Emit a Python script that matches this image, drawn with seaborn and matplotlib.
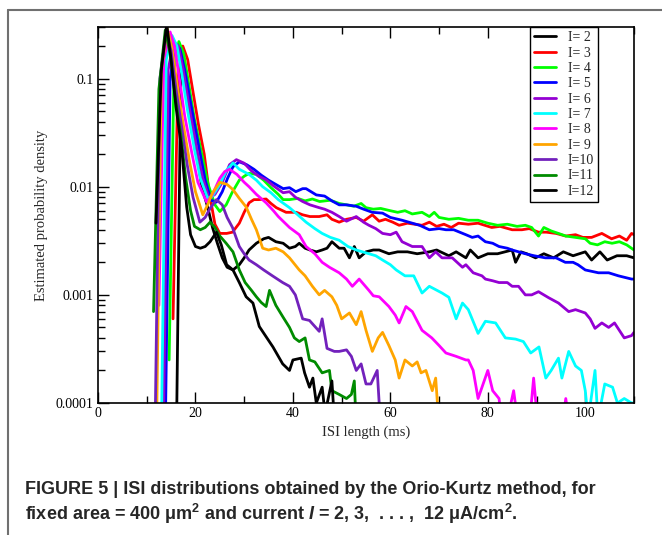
import matplotlib
matplotlib.use("Agg")
import matplotlib.pyplot as plt
from matplotlib.lines import Line2D
from matplotlib.ticker import LogLocator, NullFormatter, FixedLocator, MultipleLocator
import numpy as np
import pandas as pd
import seaborn as sns

# ISI histograms (t in ms, p = estimated density)
t_i2 = [16.1, 17.0, 18.0, 19.0, 20.2, 21.3, 22.5, 23.5, 24.5, 25.5, 26.5, 27.7, 29.0, 30.0, 31.0, 32.5, 34.0, 35.0,
        36.5, 38.0, 39.3, 40.5, 41.3, 42.5, 43.5, 44.8, 46.0, 47.0, 48.0, 49.5, 50.5, 51.6, 52.6, 53.6, 55.0, 56.5,
        57.7, 59.7, 61.5, 63.5, 65.5, 68.0, 69.5, 72.0, 73.5, 75.5, 76.4, 78.0, 80.0, 82.0, 85.0, 85.7, 86.8, 88.0,
        89.8, 91.5, 93.5, 95.5, 97.5, 100.0, 101.3, 103.0, 104.5, 106.5, 108.5, 110.0]
p_i2 = [5e-05, 0.12, 0.1, 0.05, 0.022, 0.01, 0.0065, 0.0042, 0.003, 0.0022, 0.0018, 0.0017, 0.0019, 0.0022, 0.0026,
        0.003, 0.0033, 0.0034, 0.0031, 0.003, 0.0027, 0.0028, 0.003, 0.0027, 0.0026, 0.0025, 0.0026, 0.0027, 0.0031,
        0.0027, 0.0027, 0.0022, 0.0028, 0.0022, 0.0025, 0.0026, 0.0026, 0.0024, 0.0025, 0.0025, 0.0024, 0.0025,
        0.0026, 0.0023, 0.0025, 0.0022, 0.0026, 0.0022, 0.0024, 0.0024, 0.0026, 0.002, 0.0025, 0.0024, 0.0022,
        0.0024, 0.0022, 0.0025, 0.0023, 0.0025, 0.0021, 0.0025, 0.0021, 0.0023, 0.0023, 0.0022]

t_i3 = [15.4, 16.4, 17.4, 18.4, 19.4, 20.6, 21.8, 22.8, 24.0, 25.0, 26.4, 27.6, 29.0, 30.0, 31.0, 32.0, 33.0, 34.5,
        35.5, 36.6, 38.6, 40.7, 42.0, 43.5, 45.4, 47.0, 48.0, 49.5, 51.0, 53.0, 54.5, 56.3, 57.7, 59.0, 60.5, 61.8,
        63.5, 65.0, 66.5, 68.0, 69.5, 71.0, 72.5, 74.0, 76.0, 78.0, 80.8, 82.5, 85.0, 87.0, 88.5, 90.4, 92.0, 94.0,
        96.0, 98.0, 99.5, 101.3, 103.4, 105.4, 107.0, 108.5, 109.5, 110.0]
p_i3 = [0.0006, 0.1, 0.2, 0.15, 0.08, 0.038, 0.02, 0.009, 0.0045, 0.0037, 0.0037, 0.0038, 0.0046, 0.0058, 0.0071,
        0.0076, 0.0076, 0.0077, 0.007, 0.0064, 0.0058, 0.0058, 0.0055, 0.0053, 0.0053, 0.0055, 0.005, 0.0047, 0.005,
        0.0052, 0.0048, 0.0055, 0.0048, 0.005, 0.0047, 0.0044, 0.0046, 0.0045, 0.0044, 0.0047, 0.0043, 0.0045,
        0.0042, 0.0046, 0.0045, 0.0046, 0.0042, 0.0043, 0.004, 0.004, 0.0041, 0.0038, 0.0038, 0.0037, 0.0035,
        0.0036, 0.0034, 0.0034, 0.0037, 0.0033, 0.0035, 0.0032, 0.0037, 0.0036]

t_i4 = [14.6, 15.6, 16.6, 17.6, 18.6, 19.8, 21.3, 22.6, 24.0, 25.0, 26.3, 27.5, 29.0, 30.0, 31.0, 32.5, 34.0, 35.5,
        37.0, 38.0, 39.3, 41.0, 42.5, 44.0, 45.5, 47.7, 49.5, 51.0, 52.5, 54.0, 55.0, 56.5, 58.0, 60.0, 61.5, 63.0,
        64.5, 66.5, 68.0, 69.0, 70.0, 72.0, 74.0, 76.0, 78.0, 80.0, 82.0, 84.0, 86.0, 87.7, 89.0, 90.4, 91.5, 93.0,
        94.5, 96.0, 98.0, 100.0, 101.0, 102.5, 104.0, 105.5, 107.0, 108.5, 110.0]
p_i4 = [0.00025, 0.12, 0.22, 0.17, 0.09, 0.042, 0.02, 0.0105, 0.0068, 0.0059, 0.0068, 0.0088, 0.0115, 0.0125,
        0.0133, 0.013, 0.0115, 0.0098, 0.0085, 0.0076, 0.0076, 0.0078, 0.0074, 0.0077, 0.0073, 0.0075, 0.007, 0.0068,
        0.0066, 0.007, 0.0064, 0.0062, 0.0063, 0.006, 0.0058, 0.006, 0.0056, 0.0058, 0.0053, 0.0058, 0.0052, 0.005,
        0.0051, 0.0049, 0.0049, 0.0046, 0.0044, 0.0045, 0.0043, 0.0044, 0.0042, 0.0035, 0.0042, 0.0039, 0.0037,
        0.0035, 0.0034, 0.0033, 0.003, 0.0029, 0.0031, 0.003, 0.0031, 0.0029, 0.0026]

t_i5 = [13.8, 14.8, 15.8, 16.8, 17.8, 19.0, 20.8, 22.0, 23.2, 24.3, 25.5, 26.6, 27.7, 29.0, 30.5, 32.0, 33.5, 35.0,
        36.5, 38.0, 39.3, 40.6, 42.0, 42.7, 44.8, 46.5, 48.0, 49.5, 51.0, 53.0, 54.5, 56.3, 58.4, 60.0, 62.4, 64.5,
        66.0, 68.0, 70.0, 71.4, 73.0, 75.5, 76.8, 78.0, 79.5, 81.0, 82.3, 84.0, 85.0, 87.7, 89.5, 91.8, 94.0, 95.9,
        97.5, 98.5, 100.0, 102.7, 104.8, 106.8, 109.5, 110.0]
p_i5 = [5e-05, 0.1, 0.2, 0.19, 0.12, 0.06, 0.022, 0.0115, 0.0075, 0.0072, 0.009, 0.012, 0.0153, 0.017, 0.016, 0.0145,
        0.0128, 0.0115, 0.0105, 0.0096, 0.0098, 0.009, 0.0096, 0.0096, 0.0084, 0.0082, 0.0074, 0.0068, 0.0068, 0.0066,
        0.0062, 0.0058, 0.0057, 0.0052, 0.0049, 0.0046, 0.0044, 0.004, 0.0041, 0.004, 0.004, 0.0036, 0.0034, 0.0035,
        0.0031, 0.003, 0.0028, 0.0027, 0.0026, 0.0024, 0.0023, 0.0022, 0.0022, 0.002, 0.002, 0.0019, 0.0017, 0.0016,
        0.0016, 0.0015, 0.0014, 0.0014]

t_i6 = [13.4, 14.4, 15.5, 16.5, 17.5, 18.7, 20.3, 21.5, 22.8, 24.0, 25.5, 27.0, 28.4, 30.0, 31.5, 33.0, 34.5, 36.0,
        38.0, 39.3, 40.5, 42.0, 43.5, 45.4, 46.5, 48.0, 49.5, 51.0, 53.0, 54.5, 55.6, 57.0, 58.4, 60.0, 61.2, 62.4,
        64.5, 66.5, 68.0, 69.3, 70.6, 72.7, 74.8, 75.5, 77.0, 78.8, 79.5, 81.0, 82.3, 84.0, 85.0, 86.3, 87.7, 89.0,
        90.4, 92.5, 94.5, 96.6, 98.0, 100.0, 101.0, 102.0, 103.4, 104.8, 106.0, 108.0, 109.5, 110.0]
p_i6 = [5e-05, 0.12, 0.22, 0.2, 0.12, 0.055, 0.022, 0.012, 0.0078, 0.0085, 0.011, 0.016, 0.0178, 0.0165, 0.014,
        0.0125, 0.0116, 0.0102, 0.0088, 0.009, 0.008, 0.0073, 0.0068, 0.0064, 0.0062, 0.0058, 0.0053, 0.0048, 0.0053,
        0.0047, 0.0044, 0.0041, 0.0037, 0.0036, 0.0038, 0.0031, 0.0028, 0.0028, 0.0022, 0.0025, 0.0022, 0.0022,
        0.0018, 0.0019, 0.0016, 0.0015, 0.0014, 0.00135, 0.0013, 0.0013, 0.0012, 0.0012, 0.001, 0.001, 0.00107,
        0.00094, 0.00084, 0.0007, 0.00073, 0.00068, 0.0006, 0.00049, 0.00055, 0.0005, 0.00055, 0.0004, 0.00042,
        0.00045]

t_i7 = [13.0, 14.0, 15.2, 16.2, 17.2, 18.4, 19.8, 21.0, 22.5, 23.5, 25.0, 26.3, 27.7, 29.0, 31.0, 32.5, 33.8, 35.5,
        37.0, 39.3, 41.0, 42.7, 44.5, 46.0, 47.7, 49.5, 51.3, 53.0, 55.6, 57.0, 58.4, 60.0, 61.2, 63.0, 64.8, 66.5,
        68.0, 70.6, 72.0, 73.5, 74.8, 76.0, 78.0, 79.5, 81.6, 83.6, 85.7, 87.3, 88.8, 90.5, 91.9, 93.0, 94.5, 95.2,
        96.6, 98.0, 99.2, 100.0, 100.6, 102.0, 102.6, 104.0, 105.6, 106.6, 108.0, 109.5, 110.0]
p_i7 = [5e-05, 0.15, 0.25, 0.2, 0.11, 0.05, 0.022, 0.012, 0.0078, 0.0082, 0.0105, 0.014, 0.0166, 0.0145, 0.013,
        0.0115, 0.01, 0.0088, 0.0076, 0.0064, 0.0055, 0.0047, 0.0041, 0.0037, 0.0034, 0.0032, 0.0028, 0.0026, 0.0024,
        0.0023, 0.0021, 0.0019, 0.0017, 0.0015, 0.0015, 0.00104, 0.0012, 0.00104, 0.00095, 0.0006, 0.00084, 0.00073,
        0.00044, 0.00057, 0.00055, 0.0004, 0.00039, 0.00037, 0.00029, 0.00033, 0.00017, 0.0002, 0.00026, 0.00017,
        0.0003, 0.00022, 0.0002, 0.00013, 7e-05, 0.0002, 7e-05, 0.00015, 0.00014, 0.0001, 0.00011, 0.0001, 0.0001]

t_i8 = [12.5, 13.5, 14.8, 15.7, 16.7, 17.8, 19.3, 20.5, 22.3, 23.5, 25.0, 26.0, 27.0, 28.5, 30.0, 31.0, 32.5, 34.5,
        36.0, 37.0, 39.3, 41.3, 42.7, 44.5, 46.0, 47.5, 49.5, 51.0, 52.2, 53.6, 55.6, 56.5, 57.7, 59.7, 61.0, 61.8,
        63.2, 64.5, 66.5, 68.5, 70.0, 71.4, 73.5, 75.5, 76.0, 77.0, 78.0, 80.0, 81.0, 82.3, 83.0, 84.0, 85.3, 86.3,
        88.5, 89.4, 90.3, 95.2, 96.0, 96.8]
p_i8 = [0.0008, 0.15, 0.27, 0.2, 0.1, 0.045, 0.02, 0.011, 0.0072, 0.0085, 0.012, 0.0138, 0.0145, 0.013, 0.011, 0.01,
        0.0085, 0.0071, 0.006, 0.0053, 0.0042, 0.0036, 0.0028, 0.0024, 0.002, 0.0018, 0.0016, 0.0014, 0.0012, 0.0014,
        0.0011, 0.00098, 0.00096, 0.00078, 0.00065, 0.00055, 0.00078, 0.0007, 0.00047, 0.0004, 0.00034, 0.00029,
        0.00027, 0.00025, 0.00025, 0.0002, 0.00011, 0.0002, 0.00013, 0.00011, 6e-05, 7e-05, 0.00013, 6e-05, 6e-05,
        0.00017, 6e-05, 6e-05, 0.00011, 6e-05]

t_i9 = [12.0, 13.0, 14.2, 15.2, 16.2, 17.4, 18.8, 20.0, 21.5, 22.5, 23.5, 25.0, 26.5, 27.7, 29.0, 30.4, 31.5, 32.5,
        33.8, 35.0, 36.5, 38.0, 39.3, 41.3, 42.5, 44.0, 45.4, 46.5, 48.0, 49.0, 50.0, 51.6, 53.0, 54.0, 55.0, 56.3,
        57.5, 58.4, 59.7, 61.0, 61.8, 63.0, 64.5, 65.5, 66.3, 67.3, 68.6, 69.3, 70.0]
p_i9 = [5e-05, 0.12, 0.29, 0.19, 0.09, 0.04, 0.017, 0.009, 0.0055, 0.0068, 0.0088, 0.011, 0.0105, 0.0094, 0.0078,
        0.0065, 0.005, 0.004, 0.0027, 0.0026, 0.0027, 0.0025, 0.0022, 0.0017, 0.0015, 0.0012, 0.001, 0.0011, 0.00096,
        0.0008, 0.0006, 0.00068, 0.00053, 0.0007, 0.00047, 0.0003, 0.0004, 0.00045, 0.00034, 0.00025, 0.00017,
        0.00025, 0.00022, 0.00024, 0.00019, 0.0002, 0.00013, 0.00017, 6e-05]

t_i10 = [11.7, 12.7, 14.0, 15.0, 16.0, 17.2, 18.3, 19.5, 20.9, 22.0, 23.0, 24.3, 25.5, 26.5, 27.6, 29.0, 30.0, 31.0,
         32.5, 34.0, 35.8, 37.9, 39.3, 40.5, 42.0, 43.4, 45.4, 46.0, 47.0, 48.5, 49.5, 51.0, 52.0, 53.0, 54.0, 55.0,
         56.0, 57.3, 58.0]
p_i10 = [5e-05, 0.1, 0.27, 0.18, 0.08, 0.035, 0.016, 0.008, 0.0047, 0.0052, 0.0063, 0.0076, 0.0068, 0.0052, 0.0042,
         0.0028, 0.0024, 0.0021, 0.0019, 0.0017, 0.0015, 0.0013, 0.0012, 0.001, 0.0006, 0.00058, 0.00046, 0.0006,
         0.00032, 0.0003, 0.0003, 0.00031, 0.00027, 0.0002, 0.00023, 0.00015, 0.00015, 0.0002, 6e-05]

t_i11 = [11.4, 12.5, 13.8, 14.8, 15.8, 17.0, 18.0, 19.0, 19.8, 21.0, 22.0, 23.0, 24.0, 25.0, 26.3, 27.7, 29.0, 30.2,
         31.5, 32.5, 33.5, 34.5, 35.2, 36.5, 38.0, 39.3, 40.3, 41.3, 42.5, 43.4, 44.5, 46.0, 47.5, 48.0, 49.5, 51.0,
         52.0, 52.6, 53.0]
p_i11 = [0.0007, 0.08, 0.28, 0.17, 0.07, 0.03, 0.012, 0.006, 0.0043, 0.004, 0.0042, 0.0047, 0.0042, 0.0035, 0.003,
         0.0025, 0.0017, 0.0013, 0.0011, 0.00096, 0.00085, 0.00078, 0.0011, 0.0008, 0.00062, 0.0005, 0.0004, 0.00037,
         0.0004, 0.00025, 0.00024, 0.00019, 0.0002, 0.00013, 0.00012, 0.00011, 0.00012, 0.00016, 6e-05]

t_i12 = [11.9, 13.0, 14.1, 15.0, 16.0, 17.2, 18.2, 19.0, 20.0, 21.0, 22.0, 23.0, 24.3, 25.3, 26.4, 27.7, 29.0, 30.4,
         31.8, 33.1, 34.5, 35.9, 37.9, 39.3, 40.0, 41.7, 42.4, 43.4, 44.1, 44.8, 46.0, 46.6, 48.0, 48.6]
p_i12 = [0.0046, 0.12, 0.32, 0.15, 0.055, 0.022, 0.0065, 0.0036, 0.0028, 0.0027, 0.0028, 0.0031, 0.0038, 0.0029,
         0.0019, 0.0017, 0.0013, 0.00096, 0.00084, 0.00051, 0.00041, 0.00033, 0.00023, 0.0002, 0.00025, 0.00026,
         0.00019, 0.00014, 0.00017, 0.0001, 0.00014, 8e-05, 0.00016, 6e-05]

labels = ["I= 2", "I= 3", "I= 4", "I= 5", "I= 6", "I= 7", "I= 8", "I= 9", "I=10", "I=11", "I=12"]
colors = ["#000000", "#ff0000", "#00ff00", "#0000ff", "#9400d3", "#00ffff", "#ff00ff", "#ffa500", "#7221bc",
          "#008b00", "#000000"]
ts = [t_i2, t_i3, t_i4, t_i5, t_i6, t_i7, t_i8, t_i9, t_i10, t_i11, t_i12]
ps = [p_i2, p_i3, p_i4, p_i5, p_i6, p_i7, p_i8, p_i9, p_i10, p_i11, p_i12]

caption1 = "FIGURE 5 | ISI distributions obtained by the Orio-Kurtz method, for"
caption2 = "fixed area = 400 \u03bcm$^{2}$ and current $I$ = 2, 3,  . . . ,  12 \u03bcA/cm$^{2}$."

df = pd.concat([pd.DataFrame({"t": t, "p": p, "I": lab}) for t, p, lab in zip(ts, ps, labels)],
               ignore_index=True)

sns.set_style("ticks")
plt.rcParams["font.family"] = ["Liberation Serif", "DejaVu Serif"]
plt.rcParams["mathtext.fontset"] = "custom"
plt.rcParams["mathtext.rm"] = "Liberation Sans:bold"
plt.rcParams["mathtext.it"] = "Liberation Sans:bold:italic"
plt.rcParams["mathtext.bf"] = "Liberation Sans:bold"

fig = plt.figure(figsize=(6.62, 5.35), dpi=100)
ax = fig.add_axes([98 / 662, 1 - 403 / 535, 536 / 662, 376 / 535])

sns.lineplot(data=df, x="t", y="p", hue="I", hue_order=labels, palette=dict(zip(labels, colors)),
             estimator=None, sort=False, linewidth=2.0, ax=ax)

ax.set_yscale("log")
ax.set_xlim(0, 110)
ax.set_ylim(1e-4, 0.3)
ax.yaxis.set_major_locator(FixedLocator([1e-4, 1e-3, 1e-2, 1e-1]))
ax.set_yticklabels(["0.0001", "0.001", "0.01", "0.1"])
ax.yaxis.set_minor_locator(LogLocator(base=10, subs=np.arange(2, 10), numticks=20))
ax.yaxis.set_minor_formatter(NullFormatter())
ax.xaxis.set_major_locator(MultipleLocator(20))
ax.xaxis.set_minor_locator(MultipleLocator(10))

ax.tick_params(which="both", direction="in", top=True, right=False, labelsize=10, width=1.0, colors="black")
ax.tick_params(which="major", length=8, pad=3)
ax.tick_params(which="minor", length=5)
for s in ax.spines.values():
    s.set_linewidth(1.2)
    s.set_color("black")

ax.set_xlabel("ISI length (ms)", fontsize=10.5, labelpad=4)
ax.set_ylabel("Estimated probability density", fontsize=10.5, labelpad=6)

handles = [Line2D([0], [0], color=c, lw=2.0) for c in colors]
leg = ax.legend(handles, labels, loc="upper right", bbox_to_anchor=(0.933, 1.0), borderaxespad=0,
                fontsize=10, handlelength=1.6, handletextpad=0.8, labelspacing=0.17, borderpad=0.3,
                fancybox=False, framealpha=1, edgecolor="black")
leg.get_frame().set_linewidth(1.0)

# grey frame of the figure panel (top and left edges)
fig.add_artist(Line2D([8 / 662, 1], [1 - 10 / 535, 1 - 10 / 535], color="#707070", lw=1.5))
fig.add_artist(Line2D([8 / 662, 8 / 662], [0, 1 - 10 / 535], color="#707070", lw=1.5))

fig.text(25 / 662, 1 - 494 / 535, caption1, family=["Liberation Sans", "DejaVu Sans"], weight="bold",
         fontsize=13, va="baseline")
fig.text(25 / 662, 1 - 520 / 535, caption2, family=["Liberation Sans", "DejaVu Sans"], weight="bold",
         fontsize=13, va="baseline")

fig.savefig("out.png", dpi=100)
